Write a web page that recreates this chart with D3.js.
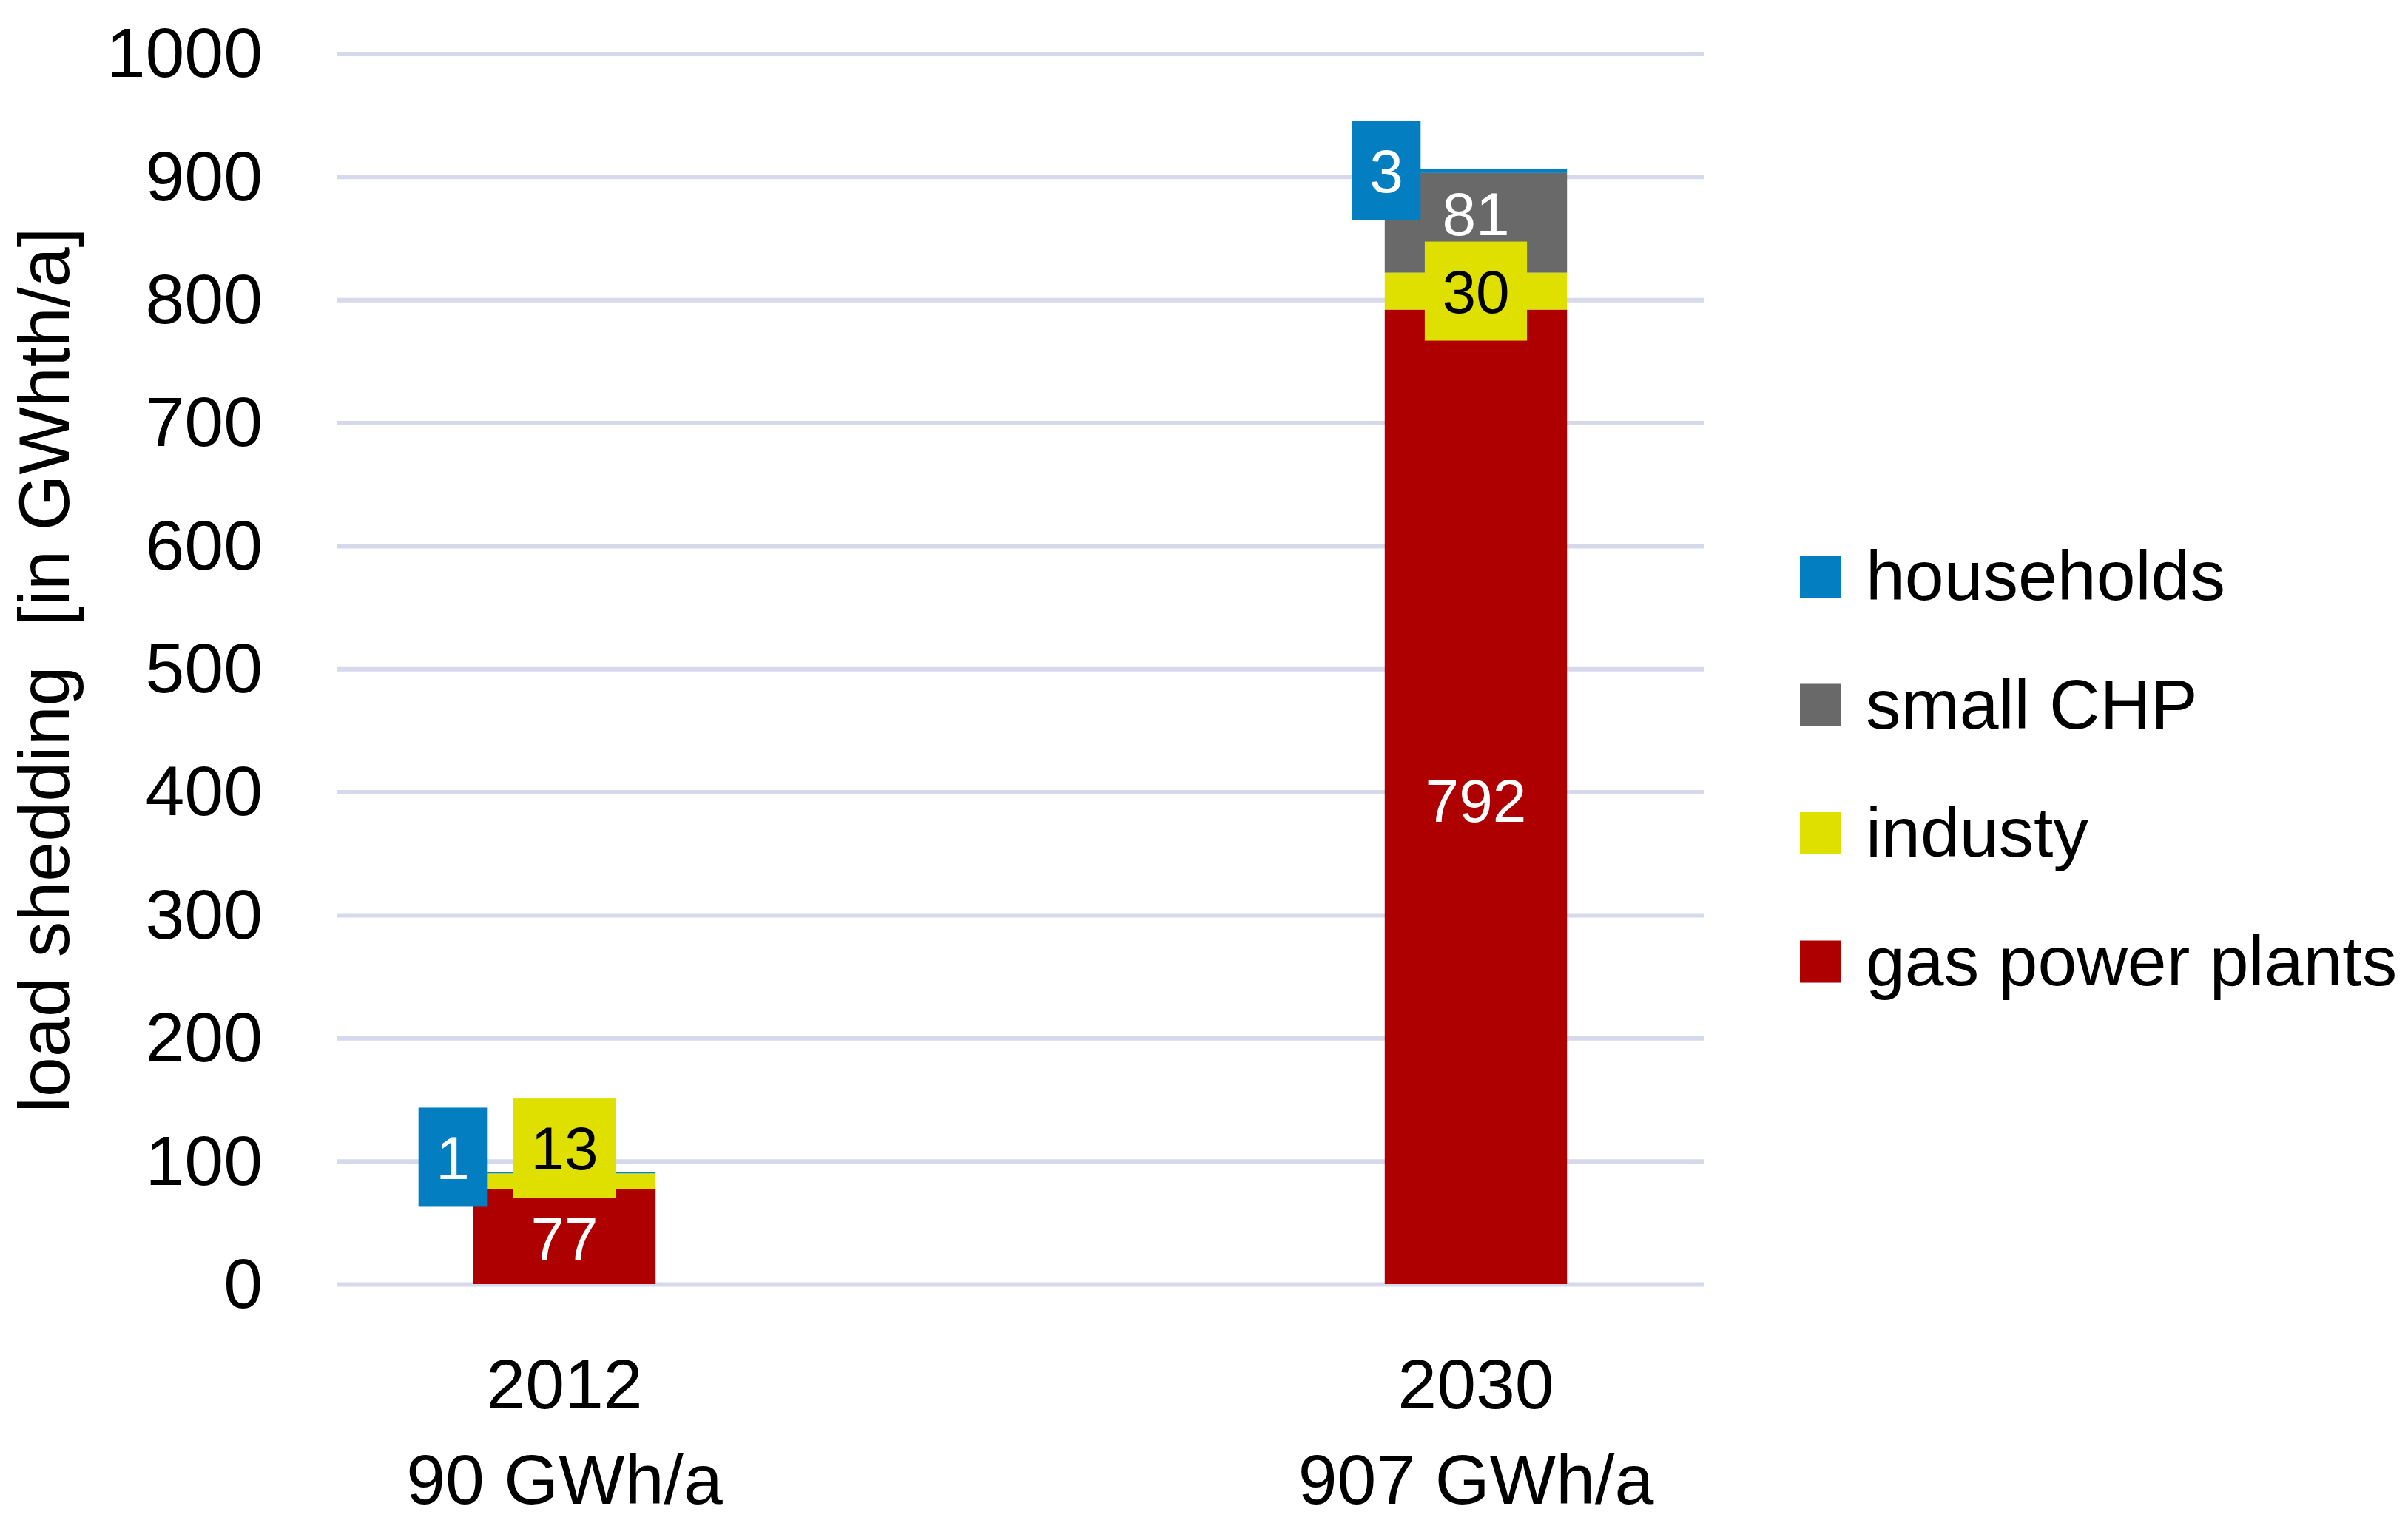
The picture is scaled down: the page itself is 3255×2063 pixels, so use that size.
<!DOCTYPE html>
<html>
<head>
<meta charset="utf-8">
<script src="https://cdn.jsdelivr.net/npm/d3@7"></script>
<style>
  body { margin: 0; background: #ffffff; }
  text { font-family: "Liberation Sans", Arial, sans-serif; }
</style>
</head>
<body>
<svg id="chart" width="3255" height="2063"></svg>
<script>
// ---------- data ----------
const categories = ["2012", "2030"];
const totalLabels = ["90 GWh/a", "907 GWh/a"];
const seriesKeys = ["gas power plants", "industy", "small CHP", "households"]; // stacking order (bottom -> top)
const gasPowerPlants = [77, 792];
const industy = [13, 30];
const smallCHP = [0, 81];
const households = [1, 3];
const yTicks = [0, 100, 200, 300, 400, 500, 600, 700, 800, 900, 1000];
const legendOrder = ["households", "small CHP", "industy", "gas power plants"];

// ---------- styles / layout ----------
const colors = {
  "households": "#037EC0",
  "small CHP": "#696969",
  "industy": "#E0E000",
  "gas power plants": "#AE0000"
};
const labelTextColor = {
  "households": "#ffffff",
  "small CHP": "#ffffff",
  "industy": "#000000",
  "gas power plants": "#ffffff"
};
const labelHasBox = { "households": true, "small CHP": false, "industy": true, "gas power plants": false };
// manual label nudges (px) relative to segment centre, per series per category
const labelNudge = {
  "households": [[-151, -21], [-121, -1]],
  "small CHP": [[0, 0], [0, -13]],
  "industy": [[0, -45], [0, 0]],
  "gas power plants": [[0, 2], [0, 4]]
};

const W = 3255, H = 2063;
const plotLeft = 455, plotRight = 2303, plotTop = 72.5, plotBottom = 1736;
const bigFont = 95, labelFont = 82;

const table = categories.map((c, i) => ({
  category: c,
  "gas power plants": gasPowerPlants[i],
  "industy": industy[i],
  "small CHP": smallCHP[i],
  "households": households[i]
}));

const svg = d3.select("#chart");
svg.append("rect").attr("width", W).attr("height", H).attr("fill", "#fff");

const x = d3.scaleBand().domain(categories).range([plotLeft, plotRight])
  .paddingInner(0.8).paddingOuter(0.15);
const y = d3.scaleLinear().domain([0, 1000]).range([plotBottom, plotTop]);

// gridlines + y tick labels
const yAxis = d3.axisLeft(y).tickValues(yTicks).tickSize(-(plotRight - plotLeft)).tickPadding(100)
  .tickFormat(d3.format("d"));
const gy = svg.append("g").attr("transform", `translate(${plotLeft},0)`).call(yAxis);
gy.select(".domain").remove();
gy.selectAll(".tick line").attr("stroke", "#D6D8EC").attr("stroke-width", 6);
gy.selectAll(".tick text").attr("font-size", bigFont).attr("fill", "#000")
  .attr("font-family", '"Liberation Sans", Arial, sans-serif').attr("dy", "0.33em");

// stacked bars
const stack = d3.stack().keys(seriesKeys);
const stacked = stack(table);
const barG = svg.append("g");
stacked.forEach(layer => {
  barG.selectAll(null).data(layer).enter().append("rect")
    .attr("x", d => x(d.data.category))
    .attr("width", x.bandwidth())
    .attr("y", d => y(d[1]))
    .attr("height", d => Math.max(0, y(d[0]) - y(d[1])))
    .attr("fill", colors[layer.key]);
});

// data labels
const labG = svg.append("g");
stacked.forEach(layer => {
  layer.forEach((d, i) => {
    const v = d[1] - d[0];
    if (v <= 0) return;
    const nudge = labelNudge[layer.key][i];
    const cx = x(d.data.category) + x.bandwidth() / 2 + nudge[0];
    const cy = y((d[0] + d[1]) / 2) + nudge[1];
    const g = labG.append("g");
    const box = g.append("rect");
    const t = g.append("text")
      .attr("x", cx).attr("y", cy + labelFont * 0.358)
      .attr("text-anchor", "middle")
      .attr("font-size", labelFont)
      .attr("fill", labelTextColor[layer.key])
      .text(d3.format("d")(v));
    if (labelHasBox[layer.key]) {
      const tw = t.node().getComputedTextLength();
      const bw = tw + 47, bh = 134;
      box.attr("x", cx - bw / 2).attr("y", cy - bh / 2)
        .attr("width", bw).attr("height", bh).attr("fill", colors[layer.key]);
    } else {
      box.remove();
    }
  });
});

// category labels (two lines)
const catG = svg.append("g");
categories.forEach((c, i) => {
  const cx = x(c) + x.bandwidth() / 2;
  const t = catG.append("text").attr("text-anchor", "middle").attr("font-size", bigFont).attr("fill", "#000");
  t.append("tspan").attr("x", cx).attr("y", 1904).text(c);
  t.append("tspan").attr("x", cx).attr("y", 2033).text(totalLabels[i]);
});

// y axis title
svg.append("text")
  .attr("transform", `translate(93,906) rotate(-90)`)
  .attr("text-anchor", "middle")
  .attr("font-size", 97)
  .attr("fill", "#000")
  .style("white-space", "pre")
  .text("load shedding  [in GWhth/a]");

// legend
const legG = svg.append("g");
const legendRow = d3.scalePoint().domain(legendOrder).range([779.5, 1300]);
legendOrder.forEach(k => {
  const cy = legendRow(k);
  legG.append("rect").attr("x", 2433).attr("y", cy - 28.5).attr("width", 56).attr("height", 57)
    .attr("fill", colors[k]);
  legG.append("text").attr("x", 2522).attr("y", cy + 31.5)
    .attr("font-size", bigFont).attr("fill", "#000").text(k);
});
</script>
</body>
</html>
